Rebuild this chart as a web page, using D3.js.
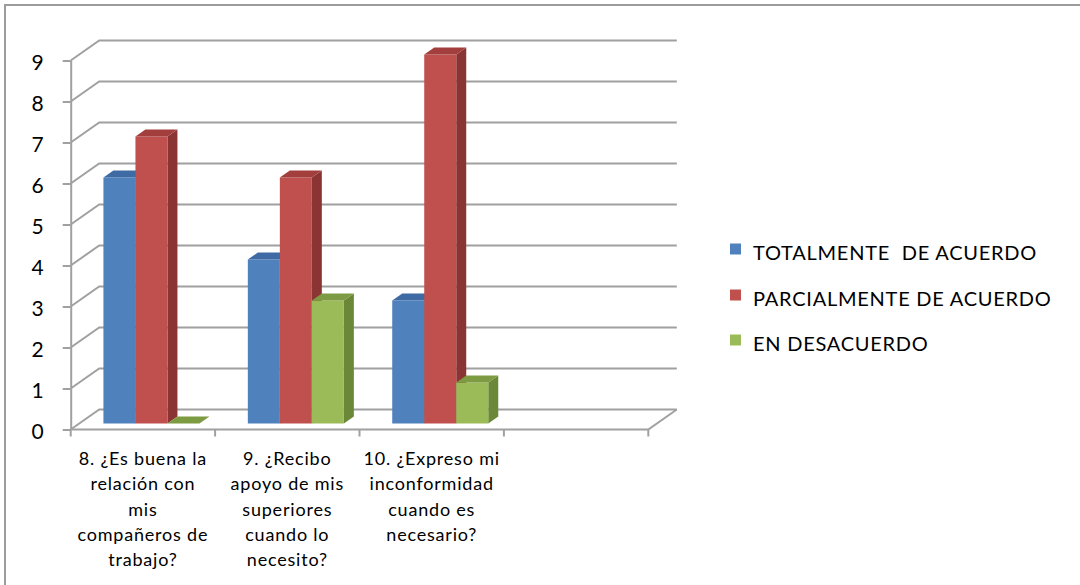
<!DOCTYPE html>
<html>
<head>
<meta charset="utf-8">
<script src="https://cdn.jsdelivr.net/npm/d3@7"></script>
<style>
  html, body { margin: 0; padding: 0; background: #fff; }
  svg { display: block; }
  text { font-family: Lato, "Open Sans", sans-serif; fill: #000; }
</style>
</head>
<body>
<svg id="chart" width="1080" height="585"></svg>
<script>
// ---- data ----
const categories = [
  "8. ¿Es buena la relación con mis compañeros de trabajo?",
  "9. ¿Recibo apoyo de mis superiores cuando lo necesito?",
  "10. ¿Expreso mi inconformidad cuando es necesario?"
];
const categoryLines = [
  ["8. ¿Es buena la", "relación con", "mis", "compañeros de", "trabajo?"],
  ["9. ¿Recibo", "apoyo de mis", "superiores", "cuando lo", "necesito?"],
  ["10. ¿Expreso mi", "inconformidad", "cuando es", "necesario?"]
];
const seriesNames = ["TOTALMENTE  DE ACUERDO", "PARCIALMENTE DE ACUERDO", "EN DESACUERDO"];
const totalmente   = [6, 4, 3];
const parcialmente = [7, 6, 9];
const desacuerdo   = [0, 3, 1];
const yTicks = [0, 1, 2, 3, 4, 5, 6, 7, 8, 9];

const seriesValues = [totalmente, parcialmente, desacuerdo];
const palette = [
  { front: "#4f81bd", top: "#3e6ba4", side: "#385f90" },
  { front: "#c0504d", top: "#a23f3c", side: "#8a3533" },
  { front: "#9bbb59", top: "#7d9b43", side: "#6a8838" }
];
const gridColor = "#a0a0a0";

const svg = d3.select("#chart");

// outer chart frame
svg.append("rect")
  .attr("x", 5).attr("y", 5).attr("width", 1200).attr("height", 700)
  .attr("fill", "none").attr("stroke", "#9c9c9c").attr("stroke-width", 2);

// ---- scales & oblique projection ----
const left = 70.7, step = 144.4;
const x0 = d3.scaleBand().domain(categories)
  .range([left, left + step * categories.length]);
const floorEnd = left + step * (categories.length + 1);
const x1 = d3.scaleBand().domain(seriesNames)
  .range([0, x0.bandwidth()]).paddingInner(0).paddingOuter(0.755);
const y = d3.scaleLinear().domain([0, 9]).range([429.5, 60.5]);

const DX = 28.5, DY = -20;     // full depth of the floor
const Z0 = 0.3, Z1 = 0.65;     // bar depth slab
const P = (x, v, z) => [x + z * DX, y(v) + z * DY];
const line = d3.line();

// ---- walls & gridlines ----
const grid = svg.append("g")
  .attr("fill", "none").attr("stroke", gridColor).attr("stroke-width", 2);

yTicks.forEach(v => {
  grid.append("path").attr("d", line([P(left, v, 0), P(left, v, 1), P(floorEnd, v, 1)]));
});
// floor front edge and right edge
grid.append("path").attr("d", line([P(left, 0, 0), P(floorEnd, 0, 0), P(floorEnd, 0, 1)]));

// category ticks at band boundaries
const boundaries = categories.map(c => x0(c)).concat([x0.range()[1], floorEnd]);
grid.selectAll(".ctick").data(boundaries).join("path")
  .attr("d", bx => line([[bx, y(0)], [bx, y(0) + 7]]));

// value axis
const yAxis = d3.axisLeft(y).tickValues(yTicks).tickSize(8).tickSizeOuter(0).tickPadding(19);
const ya = svg.append("g").attr("transform", `translate(${left},0)`).call(yAxis);
ya.selectAll("path, line").attr("stroke", gridColor).attr("stroke-width", 2);
ya.selectAll("text")
  .style("font-family", "Lato, sans-serif").style("font-size", "21px")
  .attr("fill", "#000").attr("dy", "0.45em");

// ---- 3D bars ----
const barsG = svg.append("g");
categories.forEach((cat, i) => {
  seriesNames.forEach((name, j) => {
    const v = seriesValues[j][i];
    const xa = x0(cat) + x1(name);
    const xb = xa + x1.bandwidth();
    const col = palette[j];
    const g = barsG.append("g");
    g.append("path").attr("fill", col.side)
      .attr("d", line([P(xb, 0, Z0), P(xb, 0, Z1), P(xb, v, Z1), P(xb, v, Z0)]) + "Z");
    g.append("path").attr("fill", col.front)
      .attr("d", line([P(xa, 0, Z0), P(xb, 0, Z0), P(xb, v, Z0), P(xa, v, Z0)]) + "Z");
    g.append("path").attr("fill", col.top)
      .attr("d", line([P(xa, v, Z0), P(xb, v, Z0), P(xb, v, Z1), P(xa, v, Z1)]) + "Z");
  });
});

// ---- category labels ----
const labels = svg.append("g").style("font-size", "18px").attr("text-anchor", "middle");
categories.forEach((cat, i) => {
  const cx = x0(cat) + x0.bandwidth() / 2;
  const t = labels.append("text")
    .attr("x", cx)
    .attr("y", 465)
    .style("letter-spacing", "0.8px");
  categoryLines[i].forEach((ln, k) => {
    t.append("tspan").attr("x", cx)
      .attr("dy", k === 0 ? 0 : 25.3).text(ln);
  });
});

// ---- legend ----
const legend = svg.append("g").attr("transform", "translate(730,0)");
const legendBase = [259.5, 305.5, 350.5];
seriesNames.forEach((name, j) => {
  legend.append("rect")
    .attr("x", 0).attr("y", legendBase[j] - 16).attr("width", 11).attr("height", 11)
    .attr("fill", palette[j].front);
  legend.append("text")
    .attr("x", 23).attr("y", legendBase[j])
    .style("font-size", "20px").style("white-space", "pre").style("letter-spacing", "0.75px")
    .text(name);
});
</script>
</body>
</html>
